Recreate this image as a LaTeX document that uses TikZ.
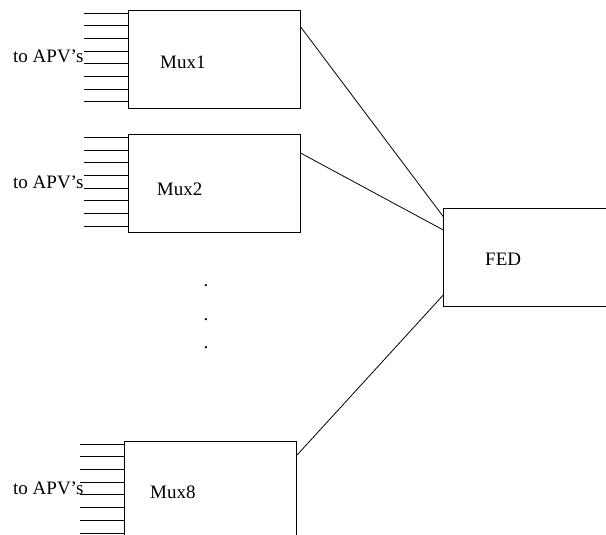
\documentclass[tikz,border=0pt]{standalone}
\usepackage{fontspec}
\setmainfont{Liberation Serif}
\usepackage{tikz}
\usetikzlibrary{positioning, calc}
\tikzstyle{muxbox} = [rectangle, draw, line width=0.8pt, minimum width=172pt, minimum height=98pt, anchor=north west, inner sep=0pt]
\tikzstyle{fedbox} = [rectangle, draw, line width=0.8pt, minimum width=200pt, minimum height=98pt, anchor=north west, inner sep=0pt]
\tikzstyle{txt} = [anchor=base west, inner sep=0pt, font=\fontsize{19}{22}\selectfont]
\tikzstyle{wire} = [line width=0.8pt]

\begin{document}
\begin{tikzpicture}[x=1pt, y=-1pt]
    \useasboundingbox (0,0) rectangle (606,535);

    % boxes
    \node[muxbox] (mux1) at (127.7,10) {};
    \node[muxbox] (mux2) at (127.7,134.3) {};
    \node[muxbox] (mux8) at (124.3,441) {};
    \node[fedbox] (fed) at (443.3,208.3) {};

    % labels
    \node[txt] (mux1txt) at (160,69) {Mux1};
    \node[txt] (mux2txt) at (156.7,195) {Mux2};
    \node[txt] (mux8txt) at (150,498.3) {Mux8};
    \node[txt] (fedtxt) at (485,265) {FED};
    \node[txt] (apv1) at (13,62.7) {to APV's};
    \node[txt] (apv2) at (13,188.3) {to APV's};
    \node[txt] (apv8) at (13,494) {to APV's};

    % the dots
    \node[txt, anchor=base] (dot1) at (206,286.5) {.};
    \node[txt, anchor=base] (dot2) at (206,320) {.};
    \node[txt, anchor=base] (dot3) at (206,348) {.};

    % inputs from the APV's
    \foreach \m in {mux1, mux2, mux8} {
        \foreach \i in {0,...,7} {
            \draw[wire] ($(\m.north west)+(0,3+12.7*\i)$) -- ++(-44,0);
        }
    }

    % links to the FED
    \draw[wire] ($(mux1.north east)+(0,16.7)$) -- ($(fed.north west)+(0,8.4)$);
    \draw[wire] ($(mux2.north east)+(0,18.7)$) -- ($(fed.north west)+(0,21.7)$);
    \draw[wire] ($(mux8.north east)+(0,14)$) -- ($(fed.north west)+(0,86.7)$);
\end{tikzpicture}
\end{document}
